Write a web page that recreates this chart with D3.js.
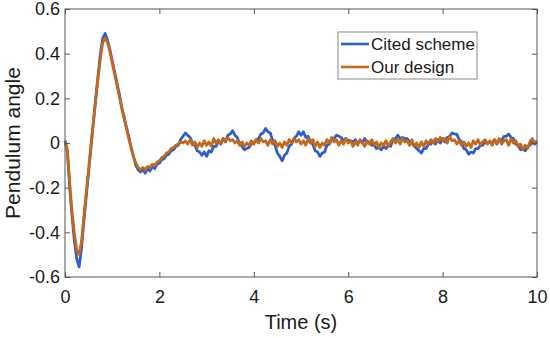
<!DOCTYPE html>
<html>
<head>
<meta charset="utf-8">
<script src="https://cdn.jsdelivr.net/npm/d3@7"></script>
<style>
  html, body { margin: 0; padding: 0; background: #fff; }
  svg { display: block; font-family: "Liberation Sans", Arial, Helvetica, sans-serif; }
</style>
</head>
<body>
<svg id="chart" width="550" height="338"></svg>
<script>
// ---- data ----
const timeStart = 0, timeStep = 0.05;   // samples at 0.05 s, 0..10 s
const xTicks = [0, 2, 4, 6, 8, 10];
const yTicks = [-0.6, -0.4, -0.2, 0, 0.2, 0.4, 0.6];
const seriesNames = ["Cited scheme", "Our design"];
const seriesColors = ["#2c5fca", "#c4681c"];

const citedScheme = [
  0.01, -0.04, -0.20, -0.33, -0.44, -0.52, -0.555, -0.47, -0.35, -0.24,
  -0.13, -0.02, 0.09, 0.20, 0.30, 0.40, 0.47, 0.49, 0.46, 0.42,
  0.37, 0.32, 0.27, 0.22, 0.16, 0.12, 0.07, 0.03, -0.02, -0.06,
  -0.10, -0.12, -0.13, -0.12, -0.135, -0.115, -0.125, -0.105, -0.115, -0.095,
  -0.09, -0.075, -0.07, -0.055, -0.05, -0.035, -0.03, -0.015, -0.01, 0.015,
  0.03,
  0.045, 0.035, 0.025, 0.0, -0.01, -0.035, -0.04, -0.055, -0.04, -0.06,
  -0.035, -0.04, -0.015, -0.015, 0.01, -0.005, 0.02, 0.005, 0.035, 0.04,
  0.055, 0.035, 0.025, -0.005, -0.015, -0.03, -0.025, -0.02, 0.0, 0.0,
  0.015, 0.02, 0.04, 0.045, 0.065, 0.05, 0.045, 0.01, -0.01, -0.045,
  -0.06, -0.08, -0.055, -0.045, -0.015, -0.005, 0.02, 0.03, 0.05, 0.035,
  0.05, 0.025, 0.03, 0.005, -0.005, -0.035, -0.04, -0.06, -0.045, -0.04,
  -0.01, -0.005, 0.015, 0.02, 0.035, 0.03, 0.025, 0.01, 0.02, 0.01,
  0.01, 0.005, 0.015, -0.005, 0.01, 0.0, 0.02, 0.0, 0.005, -0.01,
  -0.01, -0.025, -0.02, -0.03, -0.015, -0.025, -0.01, -0.015, 0.015, 0.02,
  0.035, 0.02, 0.025, 0.02, 0.02, 0.005, 0.0, -0.015, -0.025, -0.035,
  -0.045, -0.025, -0.025, -0.005, -0.005, 0.01, -0.005, 0.015, 0.0, 0.02,
  0.005, 0.025, 0.03, 0.045, 0.04, 0.04, 0.015, 0.005, -0.025, -0.03,
  -0.05, -0.04, -0.045, -0.025, -0.025, -0.01, -0.01, 0.005, 0.0, 0.005,
  0.0, 0.015, -0.005, 0.015, 0.01, 0.03, 0.03, 0.04, 0.025, 0.02,
  -0.005, -0.01, -0.03, -0.025, -0.035, -0.015, -0.01, 0.005, -0.005, 0.005
];

const ourDesign = [
  0.01, -0.03, -0.18, -0.31, -0.41, -0.48, -0.50, -0.44, -0.33, -0.22,
  -0.12, -0.01, 0.09, 0.19, 0.29, 0.38, 0.45, 0.47, 0.45, 0.41,
  0.36, 0.31, 0.26, 0.21, 0.16, 0.11, 0.07, 0.02, -0.02, -0.06,
  -0.09, -0.11, -0.12, -0.11, -0.12, -0.105, -0.11, -0.095, -0.10, -0.085,
  -0.08, -0.065, -0.06, -0.045, -0.04, -0.025, -0.02, -0.01, -0.005, 0.005,
  0.0,
  0.01, -0.005, 0.015, -0.01, 0.005, -0.02, 0.0, -0.015, 0.01, -0.01,
  0.005, -0.015, 0.02, 0.0, 0.015, -0.005, 0.02, 0.005, 0.025, 0.01,
  0.015, 0.0, 0.01, -0.01, 0.005, -0.015, 0.0, -0.01, 0.01, -0.005,
  0.015, 0.0, 0.02, 0.005, 0.01, -0.01, 0.015, -0.005, 0.01, -0.015,
  0.0, -0.02, 0.005, -0.01, 0.015, 0.0, 0.02, 0.005, 0.015, -0.005,
  0.01, -0.01, 0.02, 0.0, 0.015, -0.015, 0.005, -0.02, 0.0, -0.01,
  0.015, 0.0, 0.025, 0.005, 0.015, -0.01, 0.01, -0.005, 0.02, 0.0,
  0.01, -0.015, 0.005, -0.01, 0.015, 0.0, -0.015, 0.01, -0.005, 0.015,
  -0.01, 0.005, -0.02, 0.0, -0.01, 0.01, -0.015, 0.005, 0.02, 0.0,
  0.015, -0.005, 0.02, 0.005, 0.01, -0.01, 0.015, -0.015, 0.0, -0.02,
  0.005, -0.015, 0.01, -0.005, 0.015, 0.0, 0.02, 0.005, 0.025, 0.01,
  0.02, 0.0, 0.03, 0.01, 0.015, -0.005, 0.01, -0.01, 0.005, -0.015,
  0.0, -0.02, 0.01, -0.005, 0.015, -0.01, 0.005, 0.015, -0.005, 0.01,
  -0.01, 0.015, 0.0, 0.02, -0.005, 0.01, 0.015, -0.01, 0.02, 0.0,
  0.01, -0.015, -0.005, -0.03, -0.01, -0.025, 0.005, 0.02, 0.0, 0.01
];

// ---- layout ----
const mLeft = 65, mRight = 537, mTop = 9, mBottom = 277;
const svg = d3.select("#chart");

const x = d3.scaleLinear().domain([0, 10]).range([mLeft, mRight]);
const y = d3.scaleLinear().domain([-0.6, 0.6]).range([mBottom, mTop]);

const fmt = d => (d === 0 ? "0" : (Math.round(d * 10) / 10).toString());

// data lines
const line = d3.line()
  .x((d, i) => x(timeStart + i * timeStep))
  .y(d => y(d));

const plot = svg.append("g");
[citedScheme, ourDesign].forEach((s, k) => {
  plot.append("path")
    .datum(s)
    .attr("fill", "none")
    .attr("stroke", seriesColors[k])
    .attr("stroke-width", 2.8)
    .attr("stroke-linejoin", "round")
    .attr("d", line);
});

// axes
const axisColor = "#555";
const tickFont = 18;

const gB = svg.append("g").attr("transform", `translate(0,${mBottom})`)
  .call(d3.axisBottom(x).tickValues(xTicks).tickSizeInner(-5).tickSizeOuter(0).tickPadding(13).tickFormat(fmt));
const gT = svg.append("g").attr("transform", `translate(0,${mTop})`)
  .call(d3.axisTop(x).tickValues(xTicks).tickSizeInner(-5).tickSizeOuter(0).tickFormat(""));
const gL = svg.append("g").attr("transform", `translate(${mLeft},0)`)
  .call(d3.axisLeft(y).tickValues(yTicks).tickSizeInner(-5).tickSizeOuter(0).tickPadding(5).tickFormat(fmt));
const gR = svg.append("g").attr("transform", `translate(${mRight},0)`)
  .call(d3.axisRight(y).tickValues(yTicks).tickSizeInner(-5).tickSizeOuter(0).tickFormat(""));

[gB, gT, gL, gR].forEach(g => {
  g.select(".domain").remove();
  g.selectAll(".tick line").attr("stroke", axisColor);
  g.selectAll("text").attr("fill", "#1a1a1a").attr("font-size", tickFont)
    .attr("font-family", "'Liberation Sans', Arial, Helvetica, sans-serif");
});

// box
svg.append("rect")
  .attr("x", mLeft).attr("y", mTop)
  .attr("width", mRight - mLeft).attr("height", mBottom - mTop)
  .attr("fill", "none").attr("stroke", axisColor).attr("stroke-width", 1);

// axis labels
svg.append("text")
  .attr("x", (mLeft + mRight) / 2).attr("y", 329)
  .attr("text-anchor", "middle").attr("font-size", 20).attr("fill", "#1a1a1a")
  .text("Time (s)");

svg.append("text")
  .attr("transform", `translate(20,${(mTop + mBottom) / 2}) rotate(-90)`)
  .attr("text-anchor", "middle").attr("font-size", 21).attr("fill", "#1a1a1a")
  .text("Pendulum angle");

// legend
const lg = svg.append("g");
lg.append("rect")
  .attr("x", 338).attr("y", 32).attr("width", 139).attr("height", 47)
  .attr("fill", "#fff").attr("stroke", "#888").attr("stroke-width", 1);
seriesNames.forEach((name, k) => {
  const ly = 44 + k * 23;
  lg.append("line")
    .attr("x1", 341).attr("x2", 369).attr("y1", ly).attr("y2", ly)
    .attr("stroke", seriesColors[k]).attr("stroke-width", 2.6);
  lg.append("text")
    .attr("x", 371).attr("y", ly + 6)
    .attr("font-size", 17).attr("fill", "#1a1a1a")
    .text(name);
});
</script>
</body>
</html>
